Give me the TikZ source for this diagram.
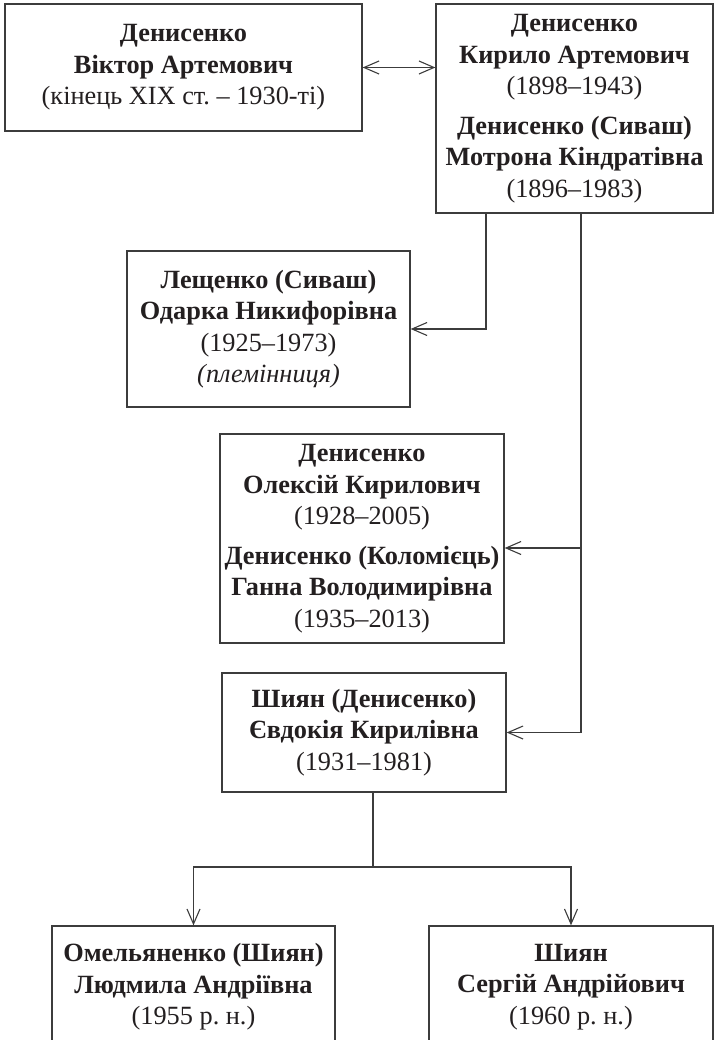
\documentclass[tikz,border=0pt]{standalone}
\usepackage{fontspec}
\setmainfont{Liberation Serif}
\usetikzlibrary{arrows.meta}
\definecolor{linegray}{HTML}{3C3C3C}
\definecolor{inkblack}{HTML}{231F20}
\frenchspacing
\begin{document}
\begin{tikzpicture}[x=1pt,y=-1pt,
  box/.style={draw=linegray, line width=1.3pt, align=center, inner sep=0pt,
    font=\fontsize{26.3}{31.5}\selectfont, text=inkblack},
  conn/.style={draw=linegray, line width=1.2pt},
  tip/.style={-{Straight Barb[length=15pt,width=13pt,line width=1.1pt]}},
  tips/.style={{Straight Barb[length=15pt,width=13pt,line width=1.1pt]}-{Straight Barb[length=15pt,width=13pt,line width=1.1pt]}}]
\useasboundingbox (0,0) rectangle (717,1040);
\clip (0,0) rectangle (717,1040);

\node[box, minimum width=357pt, minimum height=127pt] (A) at (183.5,67.5)
  {\textbf{Денисенко}\\ \textbf{Віктор Артемович}\\ (кінець XIX ст. – 1930-ті)};
\node[box, minimum width=277pt, minimum height=209pt] (B) at (574.5,108.5)
  {\textbf{Денисенко}\\ \textbf{Кирило Артемович}\\ (1898–1943)\\[8pt]
   \textbf{Денисенко (Сиваш)}\\ \textbf{Мотрона Кіндратівна}\\ (1896–1983)};
\node[box, minimum width=283pt, minimum height=156pt] (C) at (268.5,329)
  {\textbf{Лещенко (Сиваш)}\\ \textbf{Одарка Никифорівна}\\ (1925–1973)\\ \textit{(племінниця)}};
\node[box, minimum width=284pt, minimum height=209pt] (D) at (362,538.5)
  {\textbf{Денисенко}\\ \textbf{Олексій Кирилович}\\ (1928–2005)\\[8pt]
   \textbf{Денисенко (Коломієць)}\\ \textbf{Ганна Володимирівна}\\ (1935–2013)};
\node[box, minimum width=284pt, minimum height=119pt] (E) at (364,732.5)
  {\textbf{Шиян (Денисенко)}\\ \textbf{Євдокія Кирилівна}\\ (1931–1981)};
\node[box, minimum width=283pt, minimum height=122pt] (F) at (193.5,987)
  {\textbf{Омельяненко (Шиян)}\\ \textbf{Людмила Андріївна}\\ (1955 р. н.)};
\node[box, minimum width=284pt, minimum height=122pt] (G) at (571,987)
  {\textbf{Шиян}\\ \textbf{Сергій Андрійович}\\ (1960 р. н.)};

\coordinate (b1) at (486,0);
\coordinate (b2) at (581,0);
\coordinate (yd) at (0,548);
\coordinate (e1) at (373,867);

\draw[conn,tips] (A.east) -- (B.west |- A.east);
\draw[conn,tip] (b1 |- B.south) |- (C.east);
\draw[conn,tip] (b2 |- B.south) |- (E.east);
\draw[conn,tip] (b2 |- yd) -- (D.east |- yd);
\draw[conn] (e1 |- E.south) -- (e1);
\draw[conn,tip] (e1) -| (F.north);
\draw[conn,tip] (e1) -| (G.north);
\end{tikzpicture}
\end{document}
